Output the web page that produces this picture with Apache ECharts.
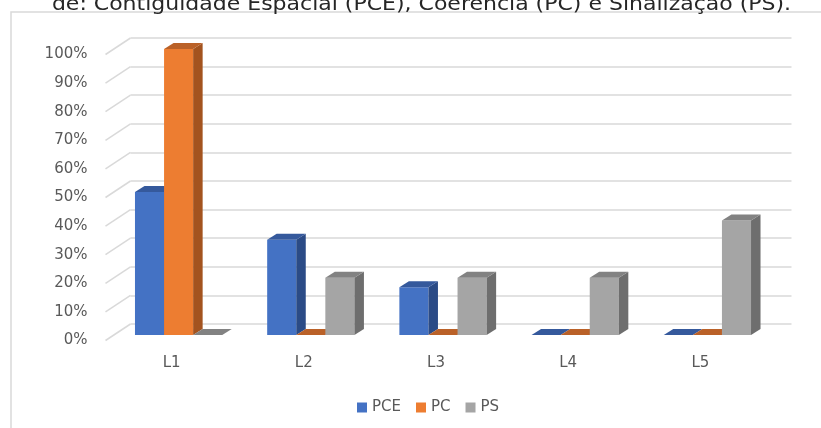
<!DOCTYPE html>
<html>
<head>
<meta charset="utf-8">
<script src="https://cdn.jsdelivr.net/npm/echarts@6/dist/echarts.min.js"></script>
<style>
html, body { margin: 0; padding: 0; background: #fff; }
#chart { width: 821px; height: 428px; }
</style>
</head>
<body>
<div id="chart"></div>
<script>
// dados do gráfico
const categories = ['L1', 'L2', 'L3', 'L4', 'L5']
const seriesNames = ['PCE', 'PC', 'PS']
const pceValues = [0.5, 0.333, 0.167, 0, 0]
const pcValues = [1, 0, 0, 0, 0]
const psValues = [0, 0.2, 0.2, 0.2, 0.4]
const yTicks = [0, 0.1, 0.2, 0.3, 0.4, 0.5, 0.6, 0.7, 0.8, 0.9, 1]
const titleText = 'de: Contiguidade Espacial (PCE), Coerência (PC) e Sinalização (PS).'

const FONT = '"DejaVu Sans", sans-serif'
// perspectiva 3D (parede do fundo e profundidade das colunas)
const WALL_X = 25
const WALL_Y = 16.5
const BAR_SHIFT_X = 7
const BAR_SHIFT_Y = -5.5
const BD_X = 9.5
const BD_Y = 6
const FRONT = { left: 105.5, top: 54.5, width: 661, height: 286 }

const palette = [
  { front: '#4472C4', side: '#2B4B86', top: '#35599C' },
  { front: '#ED7D31', side: '#A3531F', top: '#BA6128' },
  { front: '#A5A5A5', side: '#6E6E6E', top: '#828282' }
]

function toPairs (arr) {
  return arr.map((v, i) => [i, v])
}

function barRenderer (idx, colors) {
  return function (params, api) {
    const cat = api.value(0)
    const val = api.value(1)
    const base = api.coord([cat, 0])
    const top = api.coord([cat, val])
    const band = api.size([1, 0])[0]
    const w = band * 0.22
    const x0 = base[0] + BAR_SHIFT_X + (idx - 1.5) * w
    const yb = base[1] + BAR_SHIFT_Y
    const yt = top[1] + BAR_SHIFT_Y
    const children = []
    if (yb - yt > 0.5) {
      children.push({ type: 'rect', shape: { x: x0, y: yt, width: w, height: yb - yt }, style: { fill: colors.front } })
      children.push({
        type: 'polygon',
        shape: { points: [[x0 + w, yt], [x0 + w + BD_X, yt - BD_Y], [x0 + w + BD_X, yb - BD_Y], [x0 + w, yb]] },
        style: { fill: colors.side }
      })
    }
    // face de cima (ou a base achatada quando o valor é 0)
    children.push({
      type: 'polygon',
      shape: { points: [[x0, yt], [x0 + BD_X, yt - BD_Y], [x0 + w + BD_X, yt - BD_Y], [x0 + w, yt]] },
      style: { fill: colors.top }
    })
    return { type: 'group', children: children }
  }
}

const seriesValues = [pceValues, pcValues, psValues]

const option = {
  animation: false,
  backgroundColor: '#fff',
  graphic: [
    {
      type: 'rect',
      shape: { x: 11, y: 12, width: 840, height: 440 },
      style: { fill: 'none', stroke: '#d9d9d9', lineWidth: 1.5 }
    },
    {
      type: 'text',
      x: 421.5,
      y: 5,
      scaleX: 1.1,
      style: { text: titleText, fontSize: 20, fontFamily: FONT, fill: '#262626', align: 'center', verticalAlign: 'middle' }
    }
  ],
  legend: {
    data: seriesNames,
    left: 352,
    top: 395,
    icon: 'rect',
    itemWidth: 10,
    itemHeight: 10,
    itemGap: 15,
    textStyle: { fontSize: 15, fontFamily: FONT, color: '#595959' }
  },
  grid: [
    { left: FRONT.left, top: FRONT.top, width: FRONT.width, height: FRONT.height },
    { left: FRONT.left + WALL_X, top: FRONT.top - WALL_Y, width: FRONT.width, height: FRONT.height }
  ],
  xAxis: [
    {
      type: 'category',
      gridIndex: 0,
      data: categories,
      axisLine: { show: false },
      axisTick: { show: false },
      axisLabel: { color: '#595959', fontSize: 15, fontFamily: FONT, margin: 15 }
    },
    {
      type: 'category',
      gridIndex: 1,
      data: categories,
      show: false
    }
  ],
  yAxis: [
    {
      type: 'value',
      gridIndex: 0,
      min: 0,
      max: 1,
      interval: 0.1,
      splitLine: { show: false },
      axisLine: { show: false },
      axisTick: { show: false },
      axisLabel: {
        color: '#595959',
        fontSize: 15,
        fontFamily: FONT,
        margin: 18,
        formatter: (v) => Math.round(v * 100) + '%'
      }
    },
    {
      type: 'value',
      gridIndex: 1,
      min: 0,
      max: 1,
      interval: 0.1,
      axisLine: { show: false },
      axisTick: { show: false },
      axisLabel: { show: false },
      splitLine: { lineStyle: { color: '#d9d9d9', width: 1.5 } }
    }
  ],
  series: [
    {
      name: 'diagonais',
      type: 'custom',
      xAxisIndex: 0,
      yAxisIndex: 0,
      silent: true,
      encode: { x: 0, y: 1 },
      data: yTicks.map((t) => [0, t]),
      renderItem: function (params, api) {
        const y = api.coord([0, api.value(1)])[1]
        const x = params.coordSys.x
        return {
          type: 'line',
          shape: { x1: x, y1: y, x2: x + WALL_X, y2: y - WALL_Y },
          style: { stroke: '#d9d9d9', lineWidth: 1.5 }
        }
      }
    }
  ].concat(seriesNames.map((name, i) => ({
    name: name,
    type: 'custom',
    xAxisIndex: 0,
    yAxisIndex: 0,
    encode: { x: 0, y: 1 },
    itemStyle: { color: palette[i].front },
    data: toPairs(seriesValues[i]),
    renderItem: barRenderer(i, palette[i])
  })))
}

const chart = echarts.init(document.getElementById('chart'))
chart.setOption(option)
</script>
</body>
</html>
